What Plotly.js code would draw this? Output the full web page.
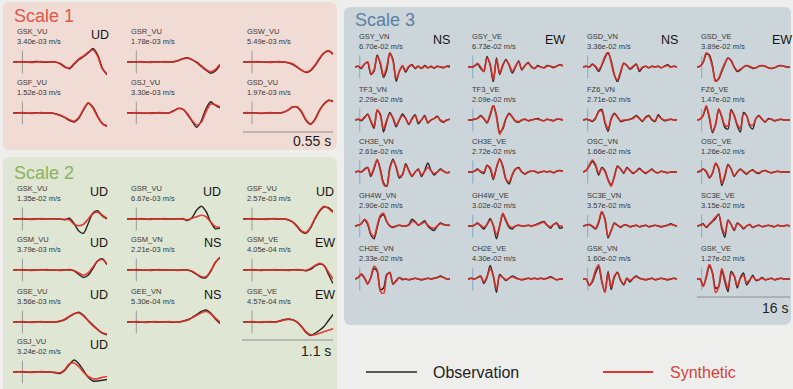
<!DOCTYPE html>
<html>
<head>
<meta charset="utf-8">
<script src="https://cdn.plot.ly/plotly-3.0.1.min.js"></script>
<style>html,body{margin:0;padding:0;background:#eeeeec;}#chart{width:793px;height:389px;}</style>
</head>
<body>
<div id="chart"></div>
<script>
// ---------------- DATA ----------------
// Scale 1 (all vertical components)
const s1Stations = ["GSK_VU","GSR_VU","GSW_VU","GSF_VU","GSJ_VU","GSD_VU"];
const s1Peaks = ["3.40e-03 m/s","1.78e-03 m/s","5.49e-03 m/s","1.52e-03 m/s","3.30e-03 m/s","1.97e-03 m/s"];
const s1Comps = ["UD","","","","",""];
const s1Obs = [
 [0,0.02,0,-0.02,0,0.03,0,-0.02,0.02,0,-0.1,-0.3,-0.45,-0.15,0.15,0.35,0.6,0.9,0.5,-0.4,-0.85],
 [0,0,0.02,0,-0.02,0,0,0.02,0,0,0.02,0.1,0.22,0.28,0.15,-0.05,-0.3,-0.55,-0.75,-0.6,-0.2],
 [0,0,0.02,0,0,-0.02,0,0.02,0,0,-0.05,-0.15,-0.35,-0.55,-0.7,-0.6,-0.25,0.2,0.6,0.75,0.55],
 [0,0.02,0,-0.02,0,0.02,0,0,0,-0.05,-0.15,-0.3,-0.5,-0.6,-0.35,0.2,0.65,0.4,-0.2,-0.7,-0.9],
 [0,0.02,0,0,-0.02,0,0.02,0,0,0,0.15,0.3,0.25,-0.1,-0.55,-0.95,-0.5,0.3,0.75,0.5,0.35],
 [0,0,0.02,0,-0.02,0,0,0.02,0,0.05,0.2,0.4,0.4,0.05,-0.5,-0.75,-0.4,0.2,0.6,0.85,0.8]
];
const s1Syn = [
 [0,0,0.02,0,-0.02,0,0.02,0,0,0,-0.12,-0.35,-0.4,-0.1,0.2,0.4,0.65,0.8,0.4,-0.45,-0.8],
 [0,0,0,0.02,0,-0.02,0,0,0.02,0,0,0.08,0.2,0.25,0.15,0,-0.25,-0.5,-0.65,-0.5,-0.15],
 [0,0,0,0.02,0,0,-0.02,0,0.02,0,-0.05,-0.12,-0.32,-0.55,-0.68,-0.55,-0.2,0.25,0.6,0.72,0.5],
 [0,0,0.02,0,-0.02,0,0.02,0,0,-0.05,-0.15,-0.28,-0.45,-0.55,-0.3,0.25,0.68,0.35,-0.25,-0.7,-0.85],
 [0,0,0.02,0,0,-0.02,0,0.02,0,0,0.12,0.3,0.25,-0.05,-0.5,-0.8,-0.6,0.1,0.6,0.55,0.4],
 [0,0.02,0,0,-0.02,0,0.02,0,0,0.05,0.18,0.38,0.42,0.1,-0.45,-0.72,-0.45,0.15,0.6,0.82,0.75]
];

// Scale 2
const s2Stations = ["GSK_VU","GSR_VU","GSF_VU","GSM_VU","GSM_VN","GSM_VE","GSE_VU","GEE_VN","GSE_VE","GSJ_VU"];
const s2Peaks = ["1.35e-02 m/s","6.67e-03 m/s","2.57e-03 m/s","3.79e-03 m/s","2.21e-03 m/s","4.05e-04 m/s","3.56e-03 m/s","5.30e-04 m/s","4.57e-04 m/s","3.24e-02 m/s"];
const s2Comps = ["UD","UD","UD","UD","NS","EW","UD","NS","EW","UD"];
const s2Obs = [
 [0,0.02,0,-0.02,0,0.02,0,0,0.02,0,0,-0.05,0.05,-0.3,-0.8,-0.95,-0.3,0.4,0.55,0.2,0],
 [0,0,0.02,0,-0.02,0,0,0.02,0,0,0,0.02,0,-0.1,0.1,0.6,0.85,0.5,-0.2,-0.65,-0.6],
 [0,0.02,0,0,-0.02,0,0.02,0,0,0,-0.05,-0.2,-0.5,-0.85,-0.95,-0.6,0,0.5,0.8,0.75,0.5],
 [0,0.02,0,-0.02,0,0,0.02,0,0,-0.02,0,0.02,0,-0.05,-0.3,-0.5,-0.35,0.1,0.6,0.75,0.35],
 [0,0.02,0,0,-0.02,0,0.02,0,0,0,-0.02,0,0.02,0,-0.1,-0.3,-0.5,-0.5,-0.1,0.5,0.85],
 [0,0.02,0,-0.02,0,0,0.02,0,0,-0.02,0,0.02,0,0,-0.05,0.05,0.25,0.4,0.3,-0.3,-0.9],
 [0,0.02,0,-0.02,0,0.02,0,0,0,0,0.05,0.15,0.35,0.55,0.65,0.45,0.1,-0.2,-0.5,-0.75,-0.85],
 [0,0.02,0,-0.02,0,0.02,0,0,0.02,0,-0.02,0,0.05,0.15,0.3,0.5,0.7,0.8,0.6,0.2,-0.1],
 [0,0.02,0,-0.02,0,0.02,0,0,0.05,0.15,0.2,0.15,0,-0.3,-0.7,-0.9,-0.75,-0.55,-0.3,0.1,0.5],
 [0,0.02,0,-0.02,0,0.02,0,0,0,-0.05,-0.1,0.1,0.5,0.8,0.55,0.1,-0.35,-0.6,-0.6,-0.55,-0.5]
];
const s2Syn = [
 [0,0,0.02,0,-0.02,0,0.02,0,0,0,0,-0.02,-0.05,-0.35,-0.45,-0.35,0,0.35,0.45,0.25,0.05],
 [0,0,0,0.02,0,-0.02,0,0,0.02,0,0,0,0.02,-0.05,0.05,0.15,0.25,0.15,-0.2,-0.5,-0.55],
 [0,0,0.02,0,0,-0.02,0,0.02,0,0,-0.05,-0.18,-0.45,-0.8,-0.9,-0.55,0.05,0.55,0.85,0.7,0.45],
 [0,0,0.02,0,-0.02,0,0,0.02,0,0,-0.02,0,0.02,-0.05,-0.2,-0.35,-0.2,0.2,0.6,0.7,0.4],
 [0,0,0.02,0,0,-0.02,0,0.02,0,0,0,-0.02,0,0,-0.08,-0.28,-0.45,-0.45,-0.05,0.5,0.8],
 [0,0,0.02,0,-0.02,0,0,0.02,0,0,-0.02,0,0.02,0,-0.03,0.1,0.3,0.45,0.3,-0.15,-0.6],
 [0,0,0.02,0,-0.02,0,0.02,0,0,0,0.06,0.18,0.38,0.55,0.6,0.4,0.08,-0.25,-0.5,-0.72,-0.8],
 [0,0,0.02,0,-0.02,0,0.02,0,0,0.02,0,0,0.05,0.12,0.28,0.45,0.62,0.7,0.55,0.25,0],
 [0,0,0.02,0,-0.02,0,0.02,0,0.05,0.12,0.18,0.15,0,-0.3,-0.65,-0.85,-0.85,-0.75,-0.65,-0.55,-0.45],
 [0,0,0.02,0,-0.02,0,0.02,0,0,-0.03,-0.05,0.15,0.55,0.6,0.35,0,-0.3,-0.45,-0.45,-0.35,-0.3]
];

// Scale 3 (horizontal components)
const s3Stations = ["GSY_VN","GSY_VE","GSD_VN","GSD_VE",
                    "TF3_VN","TF3_VE","FZ6_VN","FZ6_VE",
                    "CH3E_VN","CH3E_VE","OSC_VN","OSC_VE",
                    "GH4W_VN","GH4W_VE","SC3E_VN","SC3E_VE",
                    "CH2E_VN","CH2E_VE","GSK_VN","GSK_VE"];
const s3Peaks = ["6.70e-02 m/s","6.73e-02 m/s","3.36e-02 m/s","3.89e-02 m/s",
                 "2.29e-02 m/s","2.09e-02 m/s","2.71e-02 m/s","1.47e-02 m/s",
                 "2.61e-02 m/s","2.72e-02 m/s","1.66e-02 m/s","1.26e-02 m/s",
                 "2.90e-02 m/s","3.02e-02 m/s","3.57e-02 m/s","3.15e-02 m/s",
                 "2.33e-02 m/s","4.30e-02 m/s","1.60e-02 m/s","1.27e-02 m/s"];
const s3Comps = ["NS","EW","NS","EW","","","","","","","","","","","","","","","",""];
const s3Obs = [
 [0,0.05,-0.1,0.2,0.3,-0.5,-0.3,0.8,0.2,-0.7,-0.2,0.9,0.5,-0.95,-0.3,0.05,-0.35,0,0.15,-0.1,0.05,-0.1,0.1,-0.05,0.05,-0.08,0.05,0,-0.05,0.05,0],
 [0,0,0.05,0.2,-0.1,-0.3,0.7,0.1,-1.0,0.6,-0.5,0.1,0.5,0.1,-0.4,0,0.4,-0.2,0.1,0.3,0,-0.1,0.1,0,-0.05,0.1,0.05,-0.05,0.05,0.15,0.05],
 [0,0.05,0,0.2,0,-0.3,0.1,0.6,0.95,0.4,-0.5,-1.0,-0.4,0.25,0.1,-0.15,0,0.2,-0.3,-0.05,0.05,-0.05,0.05,0,0.05,-0.05,0.05,0.15,0,0.05,0],
 [0,0.05,0.3,0.85,0.8,0.1,-0.9,-0.8,-0.3,0.2,0.6,0.45,0,-0.3,-0.2,0,0.1,0,-0.1,-0.05,0.05,0.1,0.05,-0.05,-0.1,-0.05,0.05,0.1,0.05,0,0],
 [0,0.05,-0.05,0.15,0.4,-0.1,-0.55,0.6,0.4,-0.8,-0.1,0.5,0.1,-0.45,0,0.4,0.1,-0.3,0.1,0.35,-0.25,0,0.3,-0.2,0,0.1,0.25,-0.05,-0.15,0,0.05],
 [0,0,0.05,0.1,0.3,0.1,-0.2,0.3,0.95,0.3,-0.8,-0.6,0.1,0.45,0.2,-0.1,-0.15,0,0.05,-0.05,0,0.05,0.1,0,-0.05,0.05,0,-0.05,0.05,0.05,0],
 [0,0.05,0,-0.1,0.1,0.6,0.7,-0.2,-0.75,0.1,0.45,0.2,-0.1,-0.05,0,0.05,0.15,0.3,0.1,-0.1,0.2,0.3,0,-0.1,0.35,0.1,-0.05,0,0.05,0,0],
 [0,0.05,0.3,0.85,0.1,-0.85,-0.3,0.7,0.2,-0.5,-0.6,0.7,0.3,-0.4,-0.8,0.5,0.3,-0.4,-0.6,0.1,0.3,0.05,-0.15,0.1,0.05,-0.05,0,0.05,0,0,0],
 [0,0.05,0,0.2,0.3,-0.3,0.2,0.8,0.2,-0.7,-0.95,0.3,0.85,0.3,-0.4,-0.2,0.55,0.1,-0.3,0,0.2,-0.3,0.1,0.6,0.1,-0.2,0,0.2,0.05,-0.05,0],
 [0,0,0.05,0.2,0,-0.1,0.45,0.2,-0.5,0.3,0.85,0.4,-0.5,-0.8,-0.2,0.2,0.3,0,-0.15,0,0.05,0.05,-0.05,0,0.05,0,0.05,-0.05,0.05,0.1,0.05],
 [0,0.1,0.4,0.7,0.4,-0.2,0.3,0.1,-0.5,-0.85,-0.3,0.4,0.2,-0.1,0.3,0.1,-0.1,0.05,0.25,0.05,-0.1,0.05,0.2,0,-0.05,0.05,0,-0.05,0,0,0],
 [0,0.05,0.2,0,-0.4,-0.1,0.55,0.2,-0.9,-0.3,0.5,0.2,-0.3,0,0.2,0,-0.15,0.05,0.15,-0.05,-0.1,0.05,0.1,0,-0.05,0,0.05,0,0,0,0],
 [0,0.05,0.15,0.4,0.1,-0.6,-0.85,-0.1,0.6,0.75,0.3,0,-0.1,0,0.05,0,0,0.1,0.45,0.3,0.05,0.2,0.35,0,-0.2,-0.3,0,0.2,0.1,0.05,0.05],
 [0,0,0.05,0.2,0,-0.2,0.1,0.5,0,-0.85,0,0.8,0.3,-0.1,-0.2,0,0.05,0,0,0.05,0,0.05,0.15,0.25,0.3,0.05,-0.15,0.1,0.2,-0.15,-0.1],
 [0,0.05,0.1,-0.05,-0.2,0.2,0.9,0.5,-0.8,-0.3,0.2,0.05,-0.1,0.05,0.05,-0.05,0,0.05,-0.05,0,0.05,-0.05,0,0.05,0,-0.05,0,0.05,0.15,0.05,0],
 [0,0.05,0.15,-0.1,0.1,0.3,0.5,0.8,-0.2,-0.75,0.4,0.1,-0.3,0.2,0.05,-0.2,0,0.1,-0.1,0,0.05,-0.05,0,0.05,0,-0.05,0.05,0,0,0.05,0],
 [0,0.1,0.3,0.05,-0.3,0.1,0.7,0.5,-0.7,-0.6,0.3,0.4,-0.35,-0.1,0.1,-0.05,0,-0.05,0,0.05,0,-0.05,0,0.05,0,0.05,0.1,0.2,0.1,0,0],
 [0,0.05,0,0.1,0.2,-0.3,0.1,0.9,0.2,-0.9,0.3,0.1,-0.1,0.05,0.2,0.1,0,-0.05,0,0.05,0,0.05,0,0.05,0,0.05,0.15,0.05,-0.05,0,0],
 [0,0,-0.4,-0.2,0.4,0.8,-0.2,-0.85,0.5,-0.7,0.1,0.45,-0.1,-0.4,0.05,-0.2,0.05,0.2,0.05,0,-0.05,0,0.05,-0.05,0,0.05,0,-0.05,0,0.05,0],
 [0,0,-0.45,0.1,0.85,0.4,-0.6,-0.5,0.6,-0.2,-0.85,0.5,0.2,-0.6,0.1,0.4,-0.4,-0.1,0.25,-0.1,-0.05,0.1,-0.05,0,0.05,-0.05,0,0.05,0,0,0]
];
const s3Syn = [
 [0,0.05,-0.05,0.2,0.35,-0.45,-0.2,0.7,0.3,-0.6,0,0.95,0.4,-0.8,-0.3,0.1,-0.25,0.05,0.1,-0.05,0.05,-0.08,0.05,-0.05,0.03,-0.05,0.05,0,-0.03,0.05,0.1],
 [0,0,0.05,0.25,0,-0.3,0.6,0.2,-0.85,0.5,-0.4,0.15,0.45,0.15,-0.3,0.05,0.35,-0.15,0.1,0.25,0.05,-0.1,0.05,0,-0.05,0.05,0.05,0,0.05,0.15,0.1],
 [0,0.05,0,0.15,0.05,-0.2,0.15,0.7,1.0,0.3,-0.55,-0.85,-0.3,0.25,0.1,-0.1,0.05,0.15,-0.2,0,0.05,-0.05,0.05,0,0.05,-0.05,0.05,0.1,0,0.05,0],
 [0,0.05,0.35,0.95,0.7,0,-1.0,-0.75,-0.2,0.25,0.6,0.4,0,-0.25,-0.15,0,0.1,0.05,-0.05,-0.05,0.05,0.1,0.05,-0.05,-0.1,-0.05,0.05,0.1,0.05,0,0],
 [0,0.05,0,0.2,0.35,-0.05,-0.45,0.7,0.3,-0.6,0,0.4,0.15,-0.35,0,0.3,0.1,-0.25,0.05,0.3,-0.15,0,0.25,-0.15,0,0.1,0.2,0,-0.1,0,0.05],
 [0,0,0.05,0.1,0.25,0.1,-0.15,0.4,1.0,0.2,-0.95,-0.5,0.1,0.4,0.2,-0.05,-0.1,0,0.05,-0.05,0,0.05,0.05,0,-0.05,0.05,0,-0.05,0.05,0.05,0],
 [0,0.05,0,-0.05,0.15,0.55,0.6,-0.1,-0.6,0.05,0.4,0.2,-0.05,0,0,0.05,0.1,0.25,0.1,-0.05,0.15,0.25,0.05,-0.05,0.25,0.1,0,0,0.05,0,0],
 [0,0.05,0.35,0.95,0.2,-0.75,-0.3,0.75,0.2,-0.35,-0.4,0.6,0.3,-0.3,-0.55,0.4,0.3,-0.3,-0.35,0.1,0.25,0.05,-0.1,0.05,0.05,-0.05,0,0.05,0,0,0],
 [0,0.05,0,0.15,0.3,-0.2,0.3,0.85,0.1,-0.8,-1.0,0.2,0.75,0.35,-0.3,-0.15,0.45,0.1,-0.25,0,0.15,-0.2,0.05,0.3,0.1,-0.1,0,0.15,0.05,-0.05,0],
 [0,0,0.05,0.15,0.05,0,0.4,0.3,-0.4,0.3,0.9,0.3,-0.5,-0.65,-0.15,0.2,0.25,0,-0.1,0,0.05,0.05,-0.05,0,0.05,0,0.05,-0.05,0.05,0.1,0.05],
 [0,0.1,0.45,0.8,0.5,-0.1,0.25,0.05,-0.55,-0.95,-0.3,0.35,0.2,-0.05,0.25,0.1,-0.05,0.05,0.2,0.05,-0.05,0.05,0.15,0,-0.05,0.05,0,-0.05,0,0,0],
 [0,0.05,0.2,0.05,-0.35,-0.05,0.6,0.25,-0.75,-0.2,0.45,0.2,-0.25,0,0.15,0.05,-0.1,0.05,0.1,0,-0.05,0.05,0.1,0,-0.05,0,0.05,0,0,0,0],
 [0,0.05,0.15,0.45,0.2,-0.5,-0.7,0,0.7,0.85,0.3,0,-0.05,0,0.05,0,0,0.05,0.3,0.25,0.05,0.15,0.25,0.05,-0.1,-0.15,0,0.15,0.1,0.05,0.05],
 [0,0,0.05,0.15,0.05,-0.1,0.1,0.4,0.05,-0.6,0,0.85,0.4,0,-0.1,0,0.05,0,0,0.05,0,0.05,0.1,0.2,0.25,0.05,-0.05,0.1,0.15,0,0],
 [0,0.05,0.1,0,-0.15,0.3,1.0,0.4,-0.7,-0.3,0.15,0.05,-0.05,0.05,0.05,-0.05,0,0.05,-0.05,0,0.05,-0.05,0,0.05,0,-0.05,0,0.05,0.1,0.05,0],
 [0,0.05,0.1,-0.05,0.15,0.35,0.6,0.75,-0.05,-0.55,0.35,0.1,-0.25,0.15,0.05,-0.15,0,0.1,-0.1,0,0.05,-0.05,0,0.05,0,-0.05,0.05,0,0,0.05,0],
 [0,0.1,0.35,0.1,-0.35,0.1,0.85,0.6,-0.8,-1.0,0.2,0.45,-0.3,-0.15,0.1,0,0,-0.05,0,0.05,0,-0.05,0,0.05,0,0.05,0.1,0.15,0.1,0,0],
 [0,0.05,0,0.1,0.15,-0.2,0.15,0.7,0.2,-0.7,0.2,0.1,-0.05,0.05,0.15,0.05,0,-0.05,0,0.05,0,0.05,0,0.05,0,0.05,0.1,0.05,-0.05,0,0],
 [0,0,-0.45,-0.1,0.6,0.95,-0.1,-0.9,0.4,-0.55,0.2,0.4,-0.05,-0.35,0.05,-0.1,0.05,0.15,0.05,0,-0.05,0,0.05,-0.05,0,0.05,0,-0.05,0,0.05,0],
 [0,0,-0.5,0.2,1.0,0.4,-0.9,-0.5,0.7,0,-0.65,0.35,0.2,-0.45,0.05,0.25,-0.25,-0.05,0.15,-0.05,-0.05,0.05,-0.05,0,0.05,-0.05,0,0.05,0,0,0]
];

const scaleTitles = ["Scale 1","Scale 2","Scale 3"];
const scaleBars = ["0.55 s","1.1 s","16 s"];
const legendNames = ["Observation","Synthetic"];

// ---------------- LAYOUT ----------------
const W = 793, H = 389;
const PX = p => p / W;
const PY = p => 1 - p / H;
const OBS_COLOR = "#262626";
const SYN_COLOR = "rgba(222,45,35,0.9)";

const traces = [];
const layout = {
  width: W, height: H,
  margin: {l:0, r:0, t:0, b:0},
  paper_bgcolor: "#eeeeec",
  plot_bgcolor: "rgba(0,0,0,0)",
  showlegend: false,
  font: {family: "Liberation Sans, Arial, sans-serif", color: "#222"},
  shapes: [], annotations: []
};

function roundRect(x0,y0,x1,y1,r,fill){
  const p = `M ${PX(x0+r)},${PY(y0)} L ${PX(x1-r)},${PY(y0)} Q ${PX(x1)},${PY(y0)} ${PX(x1)},${PY(y0+r)} ` +
            `L ${PX(x1)},${PY(y1-r)} Q ${PX(x1)},${PY(y1)} ${PX(x1-r)},${PY(y1)} ` +
            `L ${PX(x0+r)},${PY(y1)} Q ${PX(x0)},${PY(y1)} ${PX(x0)},${PY(y1-r)} ` +
            `L ${PX(x0)},${PY(y0+r)} Q ${PX(x0)},${PY(y0)} ${PX(x0+r)},${PY(y0)} Z`;
  layout.shapes.push({type:"path", xref:"paper", yref:"paper", path:p, fillcolor:fill, line:{width:0}, layer:"below"});
}
roundRect(3,2,337,150,7,"#f1dbd5");
roundRect(3,157,337,395,7,"#dfe6d3");
roundRect(344,7,791,325,7,"#cbd5da");

let axN = 0;
function addWave(x0,x1,base,half,obs,syn,station,peak,comp,tMax,onsetT,onsetColor,tagX){
  axN++;
  const xa = "xaxis"+(axN===1?"":axN), ya = "yaxis"+(axN===1?"":axN);
  const xr = "x"+(axN===1?"":axN), yr = "y"+(axN===1?"":axN);
  layout[xa] = {domain:[PX(x0),PX(x1)], range:[0,tMax], visible:false, fixedrange:true, anchor:yr};
  layout[ya] = {domain:[PY(base+half),PY(base-half)], range:[-1,1], visible:false, fixedrange:true, anchor:xr};
  const tObs = obs.map((_,i)=>i), tSyn = syn.map((_,i)=>i);
  traces.push({x:tObs, y:obs, xaxis:xr, yaxis:yr, type:"scatter", mode:"lines",
    line:{color:OBS_COLOR, width:1.4, shape:"spline", smoothing:0.8}, hoverinfo:"skip", name:legendNames[0]});
  traces.push({x:tSyn, y:syn, xaxis:xr, yaxis:yr, type:"scatter", mode:"lines",
    line:{color:SYN_COLOR, width:1.7, shape:"spline", smoothing:0.8}, hoverinfo:"skip", name:legendNames[1]});
  layout.shapes.push({type:"line", xref:xr, yref:yr+" domain", x0:onsetT, x1:onsetT, y0:0.12, y1:0.88,
    line:{color:onsetColor, width:1}, layer:"below"});
  layout.annotations.push({xref:"paper", yref:"paper", x:PX(x0+2), y:PY(base-14), xanchor:"left", yanchor:"bottom",
    text:station+"<br>"+peak, showarrow:false, align:"left", font:{size:7.5, color:"#383838"}});
  if (comp) layout.annotations.push({xref:"paper", yref:"paper", x:PX(tagX), y:PY(base-27), xanchor:"center", yanchor:"middle",
    text:comp, showarrow:false, font:{size:12.5, color:"#151515"}});
}

// Scale 1 positions
const s1Cols = [[13,107],[127,220],[243,333]];
const s1Rows = [62,113];
s1Stations.forEach((st,i)=>{
  const c = s1Cols[i%3], b = s1Rows[Math.floor(i/3)];
  addWave(c[0],c[1],b,15,s1Obs[i],s1Syn[i],st,s1Peaks[i],s1Comps[i],20,2,"#9a9a9a",c[1]-7);
});
// Scale 2 positions
const s2Rows = [219,270,322,372];
s2Stations.forEach((st,i)=>{
  const c = s1Cols[i%3], b = s2Rows[Math.floor(i/3)];
  addWave(c[0],c[1],b,15,s2Obs[i],s2Syn[i],st,s2Peaks[i],s2Comps[i],20,2,"#9a9a9a",c[1]-8);
});
// Scale 3 positions
const s3Cols = [[355,450],[468,563],[583,677],[697,790]];
const s3Rows = [67,120,172,226,279];
s3Stations.forEach((st,i)=>{
  const c = s3Cols[i%4], b = s3Rows[Math.floor(i/4)];
  addWave(c[0],c[1],b,15,s3Obs[i],s3Syn[i],st,s3Peaks[i],s3Comps[i],30,1.5,"#86a9c8",c[1]-8);
});

// Titles
const titleSpecs = [[12,16,"#e0584a"],[12,173,"#8cb25e"],[353,20,"#5b80a6"]];
scaleTitles.forEach((t,i)=>{
  layout.annotations.push({xref:"paper", yref:"paper", x:PX(titleSpecs[i][0]), y:PY(titleSpecs[i][1]),
    xanchor:"left", yanchor:"middle", text:t, showarrow:false, font:{size:18, color:titleSpecs[i][2]}});
});
// Scale bars
const barSpecs = [[243,333,132,141],[242,333,340,351],[697,790,297,308]];
scaleBars.forEach((t,i)=>{
  const s = barSpecs[i];
  layout.shapes.push({type:"line", xref:"paper", yref:"paper", x0:PX(s[0]), x1:PX(s[1]), y0:PY(s[2]), y1:PY(s[2]),
    line:{color:"#8d8d8d", width:1}});
  layout.annotations.push({xref:"paper", yref:"paper", x:PX(s[1]), y:PY(s[3]), xanchor:"right", yanchor:"middle",
    text:t, showarrow:false, font:{size:14, color:"#1e1e1e"}});
});
// Legend (drawn)
layout.shapes.push({type:"line", xref:"paper", yref:"paper", x0:PX(366), x1:PX(417), y0:PY(372), y1:PY(372), line:{color:OBS_COLOR, width:1.5}});
layout.shapes.push({type:"line", xref:"paper", yref:"paper", x0:PX(603), x1:PX(653), y0:PY(372), y1:PY(372), line:{color:"#dd3a30", width:1.8}});
layout.annotations.push({xref:"paper", yref:"paper", x:PX(431), y:PY(372), xanchor:"left", yanchor:"middle",
  text:legendNames[0], showarrow:false, font:{size:16, color:"#1e1e1e"}});
layout.annotations.push({xref:"paper", yref:"paper", x:PX(668), y:PY(372), xanchor:"left", yanchor:"middle",
  text:legendNames[1], showarrow:false, font:{size:16, color:"#d2443c"}});

Plotly.newPlot("chart", traces, layout, {staticPlot:true, displayModeBar:false});
</script>
</body>
</html>
